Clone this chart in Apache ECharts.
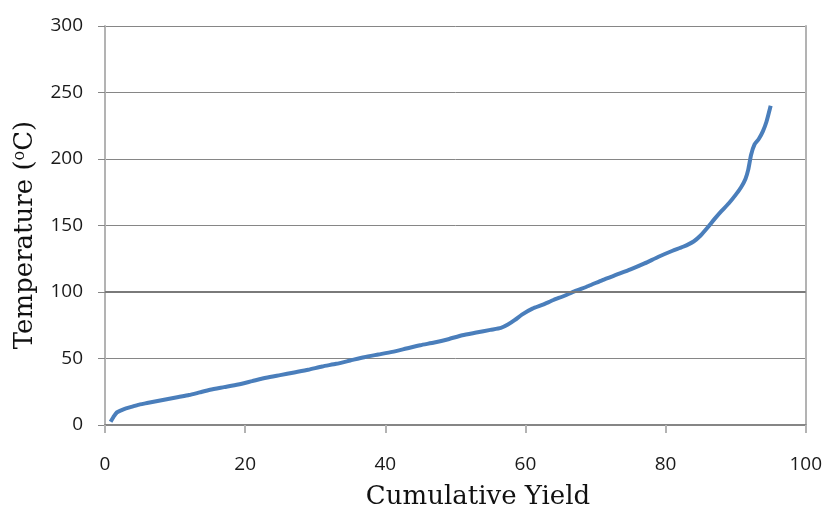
<!DOCTYPE html>
<html>
<head>
<meta charset="utf-8">
<script src="https://cdn.jsdelivr.net/npm/echarts@6/dist/echarts.min.js"></script>
<style>html,body{margin:0;padding:0;background:#fff}#c{width:825px;height:512px}</style>
</head>
<body>
<div id="c"></div>
<script>
const yieldX = [0.8, 1.2, 1.7, 2.3, 3, 4, 5, 6, 7.5, 9, 10.5, 12, 13.5, 15, 17, 19, 21, 23, 25, 27, 29, 31, 33, 35, 37, 39, 41, 43, 45, 47, 49, 51, 53, 55, 56.5, 57.5, 58.5, 59.5, 61, 62.5, 64, 65.5, 67, 69, 71, 73, 75, 77, 79, 81, 82.5, 84, 85, 86, 87, 88, 89, 90, 90.8, 91.4, 91.8, 92.2, 92.7, 93.3, 93.9, 94.4, 95];
const tempY = [2.5, 6, 9.5, 11, 12.5, 14, 15.5, 16.5, 18, 19.5, 21, 22.5, 24.5, 26.5, 28.5, 30.5, 33, 35.5, 37.5, 39.5, 41.5, 44, 46, 48.5, 51, 53, 55, 57.5, 60, 62, 64.5, 67.5, 69.5, 71.5, 73, 75.5, 79, 83, 87.5, 90.5, 94, 97, 100.5, 104.5, 109, 113, 117, 121.5, 126.5, 131, 134, 138, 142.5, 148.5, 155, 161, 166.5, 173, 179, 185, 192, 203, 211, 215, 221, 228, 240];
const xTicks = [0, 20, 40, 60, 80, 100];
const yTicks = [0, 50, 100, 150, 200, 250, 300];

const chart = echarts.init(document.getElementById('c'));
const pts = yieldX.map((x, i) => [x, tempY[i]]);
chart.setOption({
  animation: false,
  grid: { left: 105, right: 19, top: 26, bottom: 87, containLabel: false },
  xAxis: {
    type: 'value', min: xTicks[0], max: xTicks[xTicks.length - 1], interval: 20,
    axisLine: { show: true, lineStyle: { color: '#868686', width: 2 } },
    axisTick: { show: true, length: 8, lineStyle: { color: '#b3b3b3', width: 2 } },
    axisLabel: { margin: 30, fontFamily: 'Open Sans', fontSize: 19, color: '#1a1a1a' },
    splitLine: { show: false }
  },
  yAxis: [{
    type: 'value', min: yTicks[0], max: yTicks[yTicks.length - 1], interval: 50,
    axisLine: { show: true, lineStyle: { color: '#b3b3b3', width: 2 } },
    axisTick: { show: true, length: 7, lineStyle: { color: '#868686', width: 1 } },
    axisLabel: { margin: 22, fontFamily: 'Open Sans', fontSize: 19, color: '#1a1a1a' },
    splitLine: { show: true, lineStyle: { color: '#868686', width: 1 } }
  }, {
    type: 'value', position: 'right', min: 0, max: 300, interval: 50,
    axisLine: { show: true, lineStyle: { color: '#b3b3b3', width: 2 } },
    axisTick: { show: false }, axisLabel: { show: false }, splitLine: { show: false }
  }],
  series: [{
    type: 'line', data: pts, showSymbol: false, smooth: 0.2,
    lineStyle: { color: '#4a7ebb', width: 4 },
    markLine: {
      silent: true, symbol: 'none', label: { show: false },
      lineStyle: { color: '#7a7a7a', width: 2, type: 'solid' },
      data: [{ yAxis: 100 }]
    }
  }],
  graphic: [
    { type: 'text', x: 478, y: 497, style: { text: 'Cumulative Yield', align: 'center', verticalAlign: 'middle', fontFamily: 'DejaVu Serif', fontSize: 26, fill: '#111' } },
    { type: 'text', x: 25, y: 235, rotation: Math.PI / 2,
      style: { text: 'Temperature ({s|o}C)', align: 'center', verticalAlign: 'middle', fontFamily: 'DejaVu Serif', fontSize: 26, fill: '#111',
        rich: { s: { fontFamily: 'DejaVu Serif', fontSize: 16, verticalAlign: 'top', fill: '#111' } } } }
  ]
});
</script>
</body>
</html>
